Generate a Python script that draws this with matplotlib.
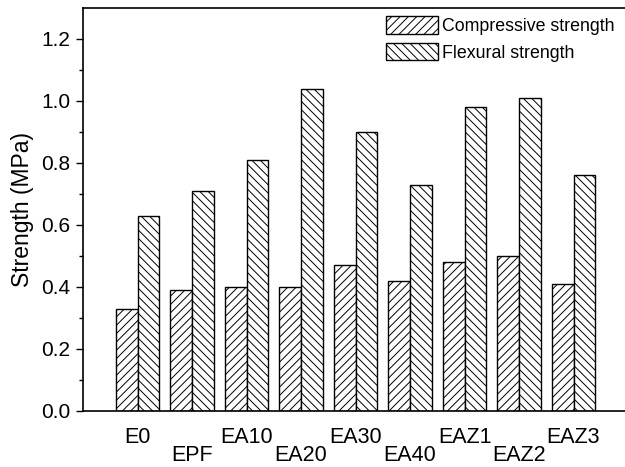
import matplotlib
matplotlib.use("Agg")
import matplotlib.pyplot as plt
import numpy as np

categories = ["E0", "EPF", "EA10", "EA20", "EA30", "EA40", "EAZ1", "EAZ2", "EAZ3"]
compressive = [0.33, 0.39, 0.40, 0.40, 0.47, 0.42, 0.48, 0.50, 0.41]
flexural = [0.63, 0.71, 0.81, 1.04, 0.90, 0.73, 0.98, 1.01, 0.76]

plt.rcParams['font.family'] = ['Liberation Sans', 'DejaVu Sans']
plt.rcParams['hatch.linewidth'] = 0.7

fig = plt.figure(figsize=(6.25, 4.67), dpi=100)
ax = fig.add_axes([83/625, 1 - 411/467, (628 - 83)/625, (411 - 8)/467])

x = np.arange(1, len(categories) + 1)
w = 0.4
ax.bar(x - w/2, compressive, w, facecolor='white', edgecolor='black', hatch='////', linewidth=1.0, label='Compressive strength')
ax.bar(x + w/2, flexural, w, facecolor='white', edgecolor='black', hatch='\\\\\\\\', linewidth=1.0, label='Flexural strength')

ax.set_xlim(0, 10)
ax.set_ylim(0, 1.3)
ax.set_yticks(np.arange(0, 1.21, 0.2))
ax.set_yticklabels([f"{v:.1f}" for v in np.arange(0, 1.21, 0.2)])
ax.set_yticks(np.arange(0.1, 1.3, 0.2), minor=True)
ax.tick_params(axis='y', which='major', direction='out', length=5, width=1, labelsize=15, pad=4)
ax.tick_params(axis='y', which='minor', direction='out', length=3, width=1)
ax.set_xticks(x)
ax.set_xticklabels([])
ax.tick_params(axis='x', which='both', length=0)
for i, (xi, lab) in enumerate(zip(x, categories)):
    yoff = -0.084 if i % 2 == 0 else -0.142
    ax.text(xi, yoff, lab, ha='center', va='center', fontsize=15.5, clip_on=False)
ax.set_ylabel("Strength (MPa)", fontsize=16.5, labelpad=5)
for s in ax.spines.values():
    s.set_linewidth(1.2)
ax.spines['right'].set_visible(False)

leg = ax.legend(loc='upper right', bbox_to_anchor=(1.0, 1.012), frameon=False, fontsize=12.8,
                handlelength=2.9, handleheight=1.1, handletextpad=0.25, labelspacing=0.45, borderaxespad=0.35)

fig.savefig("out.png", dpi=100)
